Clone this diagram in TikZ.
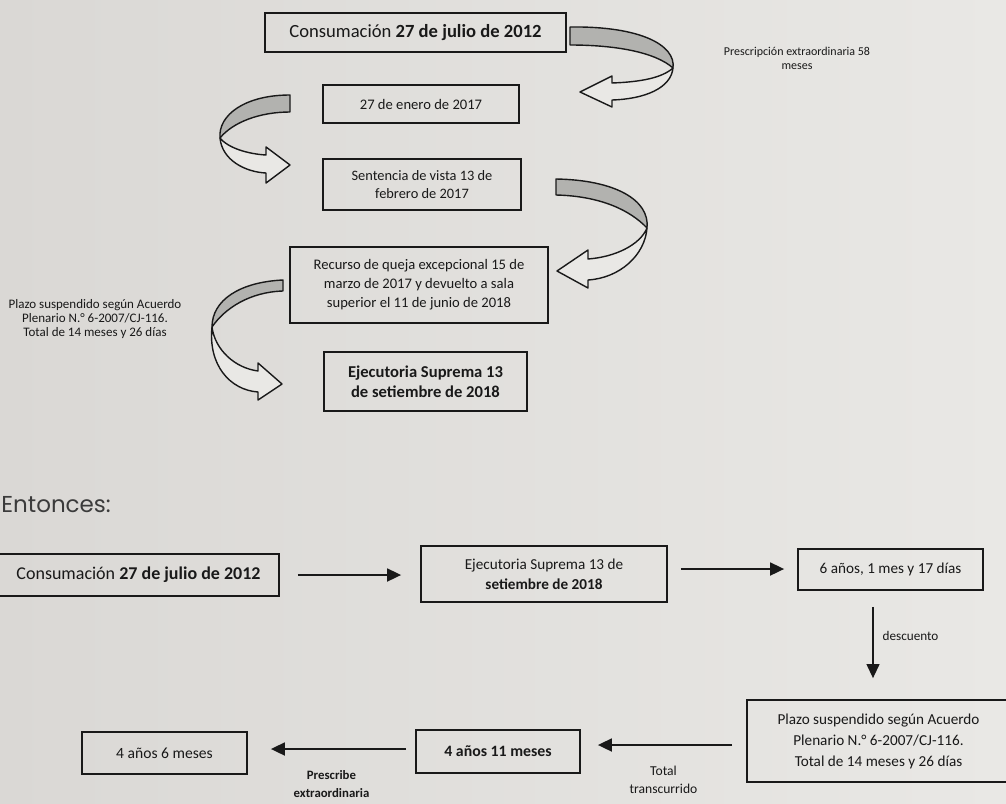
\documentclass[tikz,border=0pt]{standalone}
\usepackage{fontspec}
\setmainfont{Carlito}
\newfontfamily\gothicfont{Poppins}
\usetikzlibrary{arrows.meta,positioning}

\definecolor{paper}{RGB}{218,216,213}
\definecolor{paperlight}{RGB}{233,232,229}
\definecolor{ink}{RGB}{25,25,25}
\definecolor{stipple}{RGB}{178,178,175}

\tikzset{
  box/.style={draw=ink, line width=0.9pt, align=center, inner sep=1pt, text=ink},
  flow/.style={-{Triangle[length=7pt,width=6.5pt]}, line width=0.9pt, draw=ink},
  lbl/.style={align=center, text=ink, inner sep=0pt},
  ribbon front/.style={draw=ink, line width=0.7pt, fill=stipple, line join=round},
  ribbon back/.style={draw=ink, line width=0.7pt, fill=paperlight, line join=round}
}

\begin{document}
\begin{tikzpicture}[x=0.5pt, y=-0.5pt]

\useasboundingbox (0,0) rectangle (1006,803);
\shade[left color=paper, right color=paperlight] (0,0) rectangle (1006,803);

% Timeline (top)
\node[box, minimum width=150.5pt, minimum height=19.5pt, font=\fontsize{9.3}{11}\selectfont] (cons) at (415.5,32.5) {Consumación \textbf{27 de julio de 2012}};
\node[box, minimum width=98pt, minimum height=19pt, font=\fontsize{7.3}{9}\selectfont] (enero) at (421,104) {27 de enero de 2017};
\node[box, minimum width=99pt, minimum height=25.5pt, font=\fontsize{7.2}{9}\selectfont] (vista) at (422,184.5) {Sentencia de vista 13 de\\febrero de 2017};
\node[box, minimum width=129pt, minimum height=38pt, font=\fontsize{7.3}{9.5}\selectfont] (queja) at (419,285) {Recurso de queja excepcional 15 de\\marzo de 2017 y devuelto a sala\\superior el 11 de junio de 2018};
\node[box, minimum width=101.5pt, minimum height=29.5pt, font=\bfseries\fontsize{8.3}{10}\selectfont] (ejec) at (425.5,381.5) {Ejecutoria Suprema 13\\de setiembre de 2018};

\node[lbl, font=\fontsize{6}{7}\selectfont] (presc) at (797,58) {Prescripción extraordinaria 58\\meses};
\node[lbl, font=\fontsize{6.5}{7}\selectfont] (plazo) at (95,319) {Plazo suspendido según Acuerdo\\Plenario N.° 6-2007/CJ-116.\\Total de 14 meses y 26 días};

% Ribbon arrows
\draw[ribbon back] (673,68) .. controls (671,88) and (645,99) .. (612,100) -- (612,107) -- (580,92) -- (612,76) -- (612,83) .. controls (640,82) and (662,78) .. (673,68) -- cycle;
\draw[ribbon front] (570,27) .. controls (640,26) and (676,45) .. (673,68) .. controls (655,52) and (615,45) .. (570,45) -- cycle;

\draw[ribbon back] (220,138) .. controls (222,160) and (245,172) .. (266,173) -- (266,183) -- (290,165) -- (266,147) -- (266,155) .. controls (248,154) and (228,148) .. (220,138) -- cycle;
\draw[ribbon front] (290,95) .. controls (245,95) and (218,115) .. (220,138) .. controls (233,122) and (260,112) .. (290,112) -- cycle;

\draw[ribbon back] (647,228) .. controls (645,255) and (620,278) .. (588,280) -- (588,288) -- (557,271) -- (588,250) -- (588,259) .. controls (615,257) and (640,245) .. (647,228) -- cycle;
\draw[ribbon front] (556,179) .. controls (615,180) and (650,200) .. (647,228) .. controls (630,210) and (600,196) .. (556,195) -- cycle;

\draw[ribbon back] (212,327) .. controls (208,365) and (230,390) .. (258,392) -- (258,400) -- (282,384) -- (258,363) -- (258,371) .. controls (235,368) and (215,350) .. (212,327) -- cycle;
\draw[ribbon front] (283,280) .. controls (240,282) and (212,300) .. (212,327) .. controls (225,308) and (250,292) .. (283,291) -- cycle;

% Entonces
\node[lbl, anchor=base west, font=\gothicfont\fontsize{11.5}{14}\selectfont, text=ink!85] (entonces) at (1,512) {Entonces:};

% Calculation (bottom)
\node[box, minimum width=140.5pt, minimum height=21pt, font=\fontsize{9}{10}\selectfont] (b1) at (138.5,575) {Consumación \textbf{27 de julio de 2012}};
\node[box, minimum width=123pt, minimum height=28pt, font=\fontsize{7.6}{10}\selectfont] (b2) at (544,574) {Ejecutoria Suprema 13 de\\\textbf{setiembre de 2018}};
\node[box, minimum width=92.5pt, minimum height=20.5pt, font=\fontsize{7.6}{9}\selectfont] (b3) at (890.5,569.5) {6 años, 1 mes y 17 días};
\node[box, minimum width=131.5pt, minimum height=41pt, font=\fontsize{7.6}{10.5}\selectfont] (b4) at (878.5,741) {Plazo suspendido según Acuerdo\\Plenario N.° 6-2007/CJ-116.\\Total de 14 meses y 26 días};
\node[box, minimum width=82pt, minimum height=21.5pt, font=\bfseries\fontsize{7.9}{9}\selectfont] (b5) at (498,751.5) {4 años 11 meses};
\node[box, minimum width=82.5pt, minimum height=21pt, font=\fontsize{7.8}{9}\selectfont] (b6) at (164.5,753) {4 años 6 meses};

\draw[flow, shorten <=9pt, shorten >=9.5pt] (b1.east) -- (b1.east -| b2.west);
\draw[flow, shorten <=6.5pt, shorten >=6.5pt] ([yshift=2.5pt]b2.east) -- ([yshift=2.5pt]b2.east -| b3.west);
\draw[flow, line width=0.6pt, shorten <=8pt, shorten >=10.5pt] ([xshift=-8.75pt]b3.south) -- ([xshift=-8.75pt]b3.south |- b4.north)
  node[lbl, pos=0.42, right=4.5pt, font=\fontsize{6.6}{9}\selectfont] {descuento};
\draw[flow, shorten <=7pt, shorten >=8.5pt] ([yshift=-2pt]b4.west) -- ([yshift=-2pt]b4.west -| b5.east)
  node[lbl, midway, below=10pt, font=\fontsize{6.8}{9}\selectfont] {Total\\transcurrido};
\draw[flow, shorten <=4.5pt, shorten >=11.5pt] ([yshift=1.25pt]b5.west) -- ([yshift=1.25pt]b5.west -| b6.east)
  node[lbl, midway, below=10.5pt, font=\bfseries\fontsize{6.4}{9}\selectfont] {Prescribe\\extraordinaria};

\end{tikzpicture}
\end{document}
